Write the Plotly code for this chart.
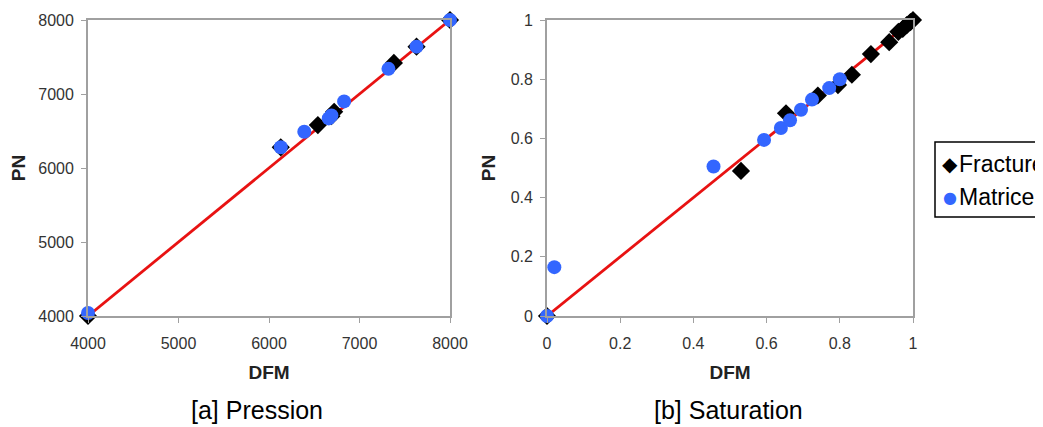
import plotly.graph_objects as go

# [a] Pression
p_frac_dfm = [4000, 6130, 6540, 6690, 6720, 7380, 7630, 8000]
p_frac_pn = [4000, 6280, 6580, 6700, 6760, 7420, 7640, 8000]
p_mat_dfm = [4000, 6130, 6390, 6660, 6690, 6830, 7320, 7630, 8000]
p_mat_pn = [4040, 6280, 6490, 6670, 6710, 6900, 7340, 7640, 8000]
p_line = [4000, 8000]

# [b] Saturation
s_frac_dfm = [0, 0.53, 0.653, 0.74, 0.795, 0.833, 0.885, 0.935, 0.96, 0.972, 0.983, 0.993, 1.0]
s_frac_pn = [0, 0.49, 0.685, 0.745, 0.78, 0.815, 0.885, 0.925, 0.96, 0.97, 0.983, 0.993, 1.0]
s_mat_dfm = [0, 0.02, 0.455, 0.593, 0.639, 0.664, 0.694, 0.724, 0.771, 0.80]
s_mat_pn = [0, 0.165, 0.505, 0.595, 0.635, 0.661, 0.697, 0.731, 0.77, 0.80]
s_line = [0, 1]

legend_names = ['Fracture', 'Matrice']
captions = ['[a] Pression', '[b] Saturation']

BLUE = 'rgb(51,102,255)'
RED = 'rgb(232,18,18)'
GREY = '#a0a0a0'
W, H = 1043, 427
OFF = 8  # page body margin, positions below are window pixels
FONT = 'Liberation Sans, Arial, sans-serif'


def px(x):
    return (x - OFF) / W


def py(y):
    return 1 - (y - OFF) / H


fig = go.Figure()

# red 1:1 lines
fig.add_trace(go.Scatter(x=p_line, y=p_line, mode='lines', line=dict(color=RED, width=2.8),
                         xaxis='x', yaxis='y'))
fig.add_trace(go.Scatter(x=s_line, y=s_line, mode='lines', line=dict(color=RED, width=2.8),
                         xaxis='x2', yaxis='y2'))

# fracture (black diamonds)
for xs, ys, xa, ya in [(p_frac_dfm, p_frac_pn, 'x', 'y'), (s_frac_dfm, s_frac_pn, 'x2', 'y2')]:
    fig.add_trace(go.Scatter(x=xs, y=ys, mode='markers', name='Fracture', cliponaxis=False,
                             marker=dict(symbol='diamond', size=14, color='black'),
                             xaxis=xa, yaxis=ya))

# matrice (blue circles)
for xs, ys, xa, ya in [(p_mat_dfm, p_mat_pn, 'x', 'y'), (s_mat_dfm, s_mat_pn, 'x2', 'y2')]:
    fig.add_trace(go.Scatter(x=xs, y=ys, mode='markers', name='Matrice', cliponaxis=False,
                             marker=dict(symbol='circle', size=14, color=BLUE),
                             xaxis=xa, yaxis=ya))

ax = dict(showgrid=False, zeroline=False, showline=True, linecolor=GREY, linewidth=1.8,
          mirror=True, ticks='outside', ticklen=5, tickcolor=GREY, automargin=False,
          tickfont=dict(family=FONT, size=16, color='#333'))
xax = dict(ax, ticklabelstandoff=7)
yax = dict(ax, ticklabelstandoff=4)
title_font = dict(family=FONT, size=19, color='#222')
ydom = [py(316), py(20)]

# legend drawn by hand: box, symbols, labels
ann = []
for name, sym, col, sz, yc in zip(legend_names, ['\u25c6', '\u25cf'], ['black', BLUE],
                                  [20, 16], [164, 197]):
    ann.append(dict(text=sym, x=px(950), y=py(yc), xref='paper', yref='paper',
                    xanchor='center', yanchor='middle', showarrow=False,
                    font=dict(family='DejaVu Sans', size=sz, color=col)))
    ann.append(dict(text=name, x=px(957), y=py(yc), xref='paper', yref='paper',
                    xanchor='left', yanchor='middle', showarrow=False,
                    font=dict(family=FONT, size=23, color='black')))
for cap, xc in zip(captions, [257, 728]):
    ann.append(dict(text=cap, x=px(xc), y=py(410), xref='paper', yref='paper',
                    xanchor='center', yanchor='middle', showarrow=False,
                    font=dict(family=FONT, size=25, color='black')))

fig.update_layout(
    width=W, height=H,
    showlegend=False,
    margin=dict(l=0, r=0, t=0, b=0, autoexpand=False),
    paper_bgcolor='white', plot_bgcolor='white',
    font=dict(family=FONT, color='black'),
    xaxis=dict(xax, domain=[px(88), px(450)], range=[4000, 8000], dtick=1000,
               title=dict(text='<b>DFM</b>', font=title_font, standoff=15)),
    yaxis=dict(yax, domain=ydom, range=[4000, 8000], dtick=1000,
               title=dict(text='<b>PN</b>', font=title_font, standoff=10)),
    xaxis2=dict(xax, domain=[px(547), px(913)], range=[0, 1], dtick=0.2, anchor='y2',
                title=dict(text='<b>DFM</b>', font=title_font, standoff=15)),
    yaxis2=dict(yax, domain=ydom, range=[0, 1], dtick=0.2, anchor='x2',
                title=dict(text='<b>PN</b>', font=title_font, standoff=10)),
    shapes=[dict(type='rect', xref='paper', yref='paper',
                 x0=px(935), x1=1.05, y0=py(217), y1=py(142),
                 line=dict(color='black', width=1.5), fillcolor='white', layer='above')],
    annotations=ann,
)

fig.write_html("out.html")
